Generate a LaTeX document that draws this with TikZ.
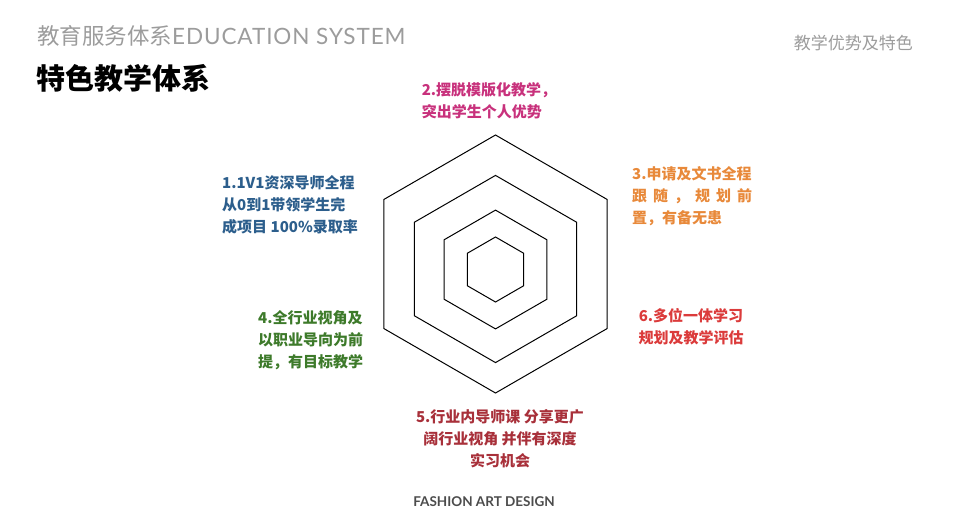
\documentclass[tikz,border=0pt]{standalone}
\usepackage{fontspec}
\setmainfont{Noto Sans CJK SC}
\newfontfamily\latinfont{Lato}
\newfontfamily\widefont{Lato}[LetterSpace=4]
\usetikzlibrary{positioning}

\definecolor{pinkc}{HTML}{C8317C}
\definecolor{bluec}{HTML}{2C5E8C}
\definecolor{orangec}{HTML}{E8893A}
\definecolor{greenc}{HTML}{3D7A2A}
\definecolor{redc}{HTML}{DB3B3B}
\definecolor{darkredc}{HTML}{A8303A}
\definecolor{greyc}{HTML}{9C9C9C}

\begin{document}
\begin{tikzpicture}[
        x=1pt, y=-1pt,
        item/.style={inner sep=0pt, font=\fontsize{15}{22}\selectfont\bfseries},
        hexline/.style={draw=black, line width=1pt, line join=miter}
    ]
    \useasboundingbox (0,0) rectangle (960,517);

    % header
    \node[anchor=west, inner sep=0pt, text=greyc, font=\fontsize{22.5}{24}\selectfont] (head) at (37,36)
        {教育服务体系{\widefont EDUCATION SYSTEM}};
    \node[anchor=west, inner sep=0pt, font=\fontsize{29}{31}\selectfont\bfseries] (title) at (36,78) {特色教学体系};
    \node[anchor=east, inner sep=0pt, text=greyc, font=\fontsize{17}{20}\selectfont] (tag) at (913,43) {教学优势及特色};

    % hexagons
    \foreach \r/\cy in {129/264, 93.6/269, 59.4/269.5, 32.5/269.5}
        \draw[hexline, shift={(495.5,\cy)}] (90:\r) -- (150:\r) -- (210:\r) -- (270:\r) -- (330:\r) -- (30:\r) -- cycle;

    % items
    \node[item, text=pinkc, align=left] (p2) at (489,101) {2.摆脱模版化教学，\\突出学生个人优势};
    \node[item, text=bluec, align=left, anchor=west] (p1) at (222,205)
        {1.1V1资深导师全程\\从0到1带领学生完\\成项目 100\%录取率};
    \node[item, text=orangec, align=left, anchor=west] (p3) at (632,196)
        {3.申请及文书全程\\\makebox[8em][s]{跟 随 ， 规 划 前}\\置，有备无患};
    \node[item, text=greenc, align=left, anchor=west] (p4) at (258,340)
        {4.全行业视角及\\以职业导向为前\\提，有目标教学};
    \node[item, text=redc, align=center] (p6) at (691,327) {6.多位一体学习\\规划及教学评估};
    \node[item, text=darkredc, align=center] (p5) at (500,439)
        {5.行业内导师课 分享更广\\阔行业视角 并伴有深度\\实习机会};

    % footer
    \node[inner sep=0pt, text=black!70, font=\latinfont\bfseries\fontsize{13.5}{15}\selectfont] (foot) at (484,502) {FASHION ART DESIGN};
\end{tikzpicture}
\end{document}
